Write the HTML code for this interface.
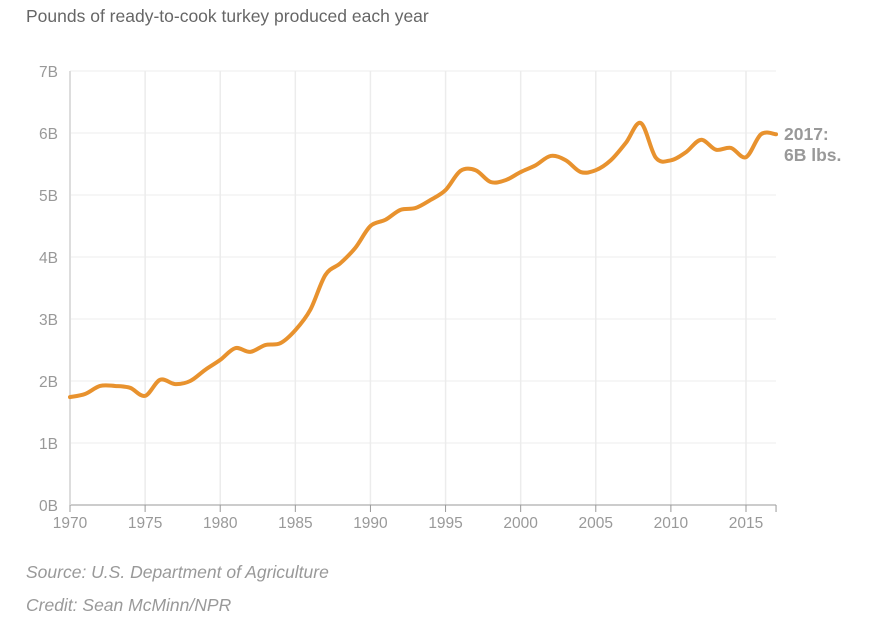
<!DOCTYPE html>
<html><head><meta charset="utf-8"><style>
body{margin:0;background:#fff;font-family:"Liberation Sans",Arial,sans-serif;}
svg text{font-family:"Liberation Sans",Arial,sans-serif;}
</style></head><body>
<svg id="chart" width="890" height="624">
<text x="26" y="22" font-size="17.5" fill="#666">Pounds of ready-to-cook turkey produced each year</text>
<g id="grid"></g><g id="axes"></g>
<path id="line" fill="none" stroke="#e8922e" stroke-width="4" stroke-linejoin="round" stroke-linecap="round"/>
<text x="784" y="140" font-size="17.5" font-weight="bold" fill="#999">2017:</text>
<text x="784" y="161" font-size="17.5" font-weight="bold" fill="#999">6B lbs.</text>
<text x="26" y="578" font-size="17.5" font-style="italic" fill="#999">Source: U.S. Department of Agriculture</text>
<text x="26" y="611" font-size="17.5" font-style="italic" fill="#999">Credit: Sean McMinn/NPR</text>
</svg>
<script>
const years=[1970,1971,1972,1973,1974,1975,1976,1977,1978,1979,1980,1981,1982,1983,1984,1985,1986,1987,1988,1989,1990,1991,1992,1993,1994,1995,1996,1997,1998,1999,2000,2001,2002,2003,2004,2005,2006,2007,2008,2009,2010,2011,2012,2013,2014,2015,2016,2017];
const values=[1.74,1.79,1.92,1.92,1.89,1.76,2.02,1.95,2.0,2.18,2.34,2.53,2.47,2.58,2.61,2.82,3.15,3.71,3.9,4.15,4.5,4.6,4.76,4.79,4.92,5.08,5.39,5.4,5.21,5.24,5.37,5.48,5.63,5.56,5.37,5.4,5.56,5.84,6.16,5.6,5.56,5.69,5.89,5.73,5.76,5.61,5.98,5.98];
const yTicks=[0,1,2,3,4,5,6,7];
const xTicks=[1970,1975,1980,1985,1990,1995,2000,2005,2010,2015];
const NS='http://www.w3.org/2000/svg';
const x=v=>70+(v-1970)*(676/45);
const y=v=>505-v*62;
const grid=document.getElementById('grid'),axes=document.getElementById('axes');
function mk(t,a,p){const e=document.createElementNS(NS,t);for(const k in a)e.setAttribute(k,a[k]);p.appendChild(e);return e;}
yTicks.forEach(t=>{
 const l=mk('line',{x1:70,x2:776,y1:y(t),y2:y(t),stroke:'#ececec','stroke-width':1},grid);
 
 
 const tx=mk('text',{x:58,y:y(t)+6,'font-size':15.5,fill:'#999','text-anchor':'end'},axes);
 tx.textContent=t+'B';
 
 
});
xTicks.forEach(t=>{
 const l=mk('line',{x1:x(t),x2:x(t),y1:71,y2:505,stroke:'#ececec','stroke-width':t===1970?2:1.5},grid);
 
 
 const tk=mk('line',{x1:x(t),x2:x(t),y1:505,y2:512,stroke:'#999'},axes);
 
 
 const tx=mk('text',{x:x(t),y:528,'font-size':15.5,fill:'#999','text-anchor':'middle'},axes);
 tx.textContent=t;
 
 
});
const tk2=mk('line',{x1:x(2017),x2:x(2017),y1:505,y2:512,stroke:'#999'},axes);


const ax=mk('line',{x1:70,x2:x(2017),y1:505,y2:505,stroke:'#999'},axes);


const yax=mk('line',{x1:70,x2:70,y1:71,y2:505,stroke:'#ddd','stroke-width':2},axes);


const P=years.map((yr,i)=>[x(yr),y(values[i])]);
let d='M'+P[0][0]+','+P[0][1];
for(let i=0;i<P.length-1;i++){
 const p0=P[Math.max(0,i-1)],p1=P[i],p2=P[i+1],p3=P[Math.min(P.length-1,i+2)];
 const t=0.5/3;
 d+=` C${p1[0]+(p2[0]-p0[0])*t},${p1[1]+(p2[1]-p0[1])*t} ${p2[0]-(p3[0]-p1[0])*t},${p2[1]-(p3[1]-p1[1])*t} ${p2[0]},${p2[1]}`;
}
document.getElementById('line').setAttribute('d',d);
</script>
</body></html>
